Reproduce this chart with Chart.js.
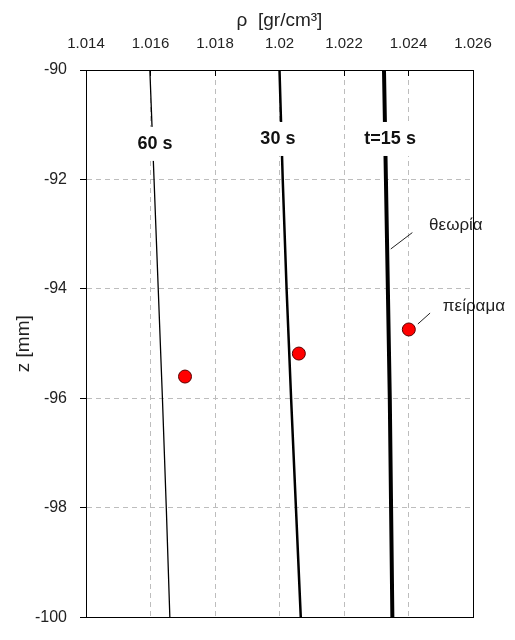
<!DOCTYPE html>
<html>
<head>
<meta charset="utf-8">
<script src="https://cdn.jsdelivr.net/npm/chart.js@4"></script>
<style>
  body { margin: 0; background: #fff; }
  #wrap { width: 515px; height: 640px; }
</style>
</head>
<body>
<div id="wrap"><canvas id="rhoChart" width="515" height="640"></canvas></div>
<script>
// depth values for the theory curves
const zTheory = [-90, -92, -94, -96, -98, -100];
// density at each depth
const rho60 = [1.01598, 1.01611, 1.01624, 1.01637, 1.01649, 1.0166];
const rho30 = [1.02000, 1.02010, 1.02022, 1.02036, 1.02051, 1.02066];
const rho15 = [1.02324, 1.02330, 1.02336, 1.02342, 1.02346, 1.0235];
// experiment points (one per time)
const rhoExp = [1.01707, 1.0206, 1.02401];
const zExp = [-95.60, -95.18, -94.74];
const xTicks = [1.014, 1.016, 1.018, 1.02, 1.022, 1.024, 1.026];
const yTicks = [-90, -92, -94, -96, -98, -100];

Chart.defaults.font.family = '"Liberation Sans", Arial, sans-serif';
Chart.defaults.color = '#222';

const toPts = (xs, ys) => xs.map((x, i) => ({ x: x, y: ys[i] }));

// labels placed in data coordinates
const curveLabels = [
  { text: '60 s', x: 1.01614, y: -91.35 },
  { text: '30 s', x: 1.01995, y: -91.26 },
  { text: 't=15 s', x: 1.02343, y: -91.26 },
];

const annotations = {
  id: 'annotations',
  afterDatasetsDraw(chart) {
    const ctx = chart.ctx;
    const sx = chart.scales.x, sy = chart.scales.y;
    ctx.save();
    ctx.font = 'bold 18px "Liberation Sans", Arial, sans-serif';
    ctx.textAlign = 'center';
    ctx.textBaseline = 'middle';
    curveLabels.forEach(l => {
      const px = sx.getPixelForValue(l.x), py = sy.getPixelForValue(l.y);
      const w = ctx.measureText(l.text).width + 8;
      ctx.fillStyle = '#fff';
      ctx.fillRect(px - w / 2, py - 17, w, 34);
      ctx.fillStyle = '#111';
      ctx.fillText(l.text, px, py);
    });
    // theory / experiment callouts
    ctx.font = '17px "Liberation Sans", Arial, sans-serif';
    ctx.strokeStyle = '#222';
    ctx.lineWidth = 1;
    ctx.beginPath();
    ctx.moveTo(sx.getPixelForValue(1.02345), sy.getPixelForValue(-93.27));
    ctx.lineTo(sx.getPixelForValue(1.02412), sy.getPixelForValue(-92.97));
    ctx.moveTo(sx.getPixelForValue(1.02429), sy.getPixelForValue(-94.64));
    ctx.lineTo(sx.getPixelForValue(1.02467), sy.getPixelForValue(-94.44));
    ctx.stroke();
    ctx.fillStyle = '#222';
    ctx.fillText('θεωρία', sx.getPixelForValue(1.02547), sy.getPixelForValue(-92.84));
    ctx.fillText('πείραμα', sx.getPixelForValue(1.02603), sy.getPixelForValue(-94.31));
    ctx.restore();
  },
  afterDraw(chart) {
    const a = chart.chartArea, ctx = chart.ctx;
    ctx.save();
    ctx.strokeStyle = '#000';
    ctx.lineWidth = 1;
    ctx.strokeRect(Math.round(a.left) + 0.5, Math.round(a.top) + 0.5, Math.round(a.width), Math.round(a.height));
    ctx.restore();
  }
};

new Chart(document.getElementById('rhoChart'), {
  type: 'scatter',
  data: {
    datasets: [
      { data: toPts(rho60, zTheory), showLine: true, borderColor: '#000', borderWidth: 1.3, pointRadius: 0 },
      { data: toPts(rho30, zTheory), showLine: true, borderColor: '#000', borderWidth: 2.5, pointRadius: 0 },
      { data: toPts(rho15, zTheory), showLine: true, borderColor: '#000', borderWidth: 4, pointRadius: 0 },
      {
        data: toPts(rhoExp, zExp),
        showLine: false,
        pointRadius: 6.5,
        backgroundColor: '#ff0000',
        borderColor: '#5a0000',
        borderWidth: 1,
      },
    ],
  },
  options: {
    responsive: false,
    animation: false,
    layout: { padding: { left: 0, top: 0, right: 42, bottom: 13 } },
    scales: {
      x: {
        type: 'linear',
        position: 'top',
        min: 1.014,
        max: 1.026,
        afterBuildTicks: s => { s.ticks = xTicks.map(v => ({ value: v })); },
        afterFit: s => { s.height = 70; },
        ticks: {
          font: { size: 15 },
          padding: 23,
          callback: v => parseFloat(v.toFixed(3)).toString(),
        },
        grid: {
          color: '#bdbdbd',
          tickLength: -6,
          tickColor: '#000',
        },
        border: { display: true, color: '#000', dash: [5, 4] },
        title: { display: true, text: 'ρ  [gr/cm³]', font: { size: 19 }, padding: { top: 9, bottom: 0 } },
      },
      y: {
        type: 'linear',
        min: -100,
        max: -90,
        afterBuildTicks: s => { s.ticks = yTicks.map(v => ({ value: v })); },
        afterFit: s => { s.width = 86; },
        ticks: { font: { size: 16 }, padding: 13 },
        grid: {
          color: '#bdbdbd',
          tickLength: 6,
          tickColor: '#000',
        },
        border: { display: true, color: '#000', dash: [5, 4] },
        title: { display: true, text: 'z [mm]', font: { size: 19 }, padding: { top: 12, bottom: 0 } },
      },
    },
    plugins: {
      legend: { display: false },
      tooltip: { enabled: false },
    },
  },
  plugins: [annotations],
});
</script>
</body>
</html>
